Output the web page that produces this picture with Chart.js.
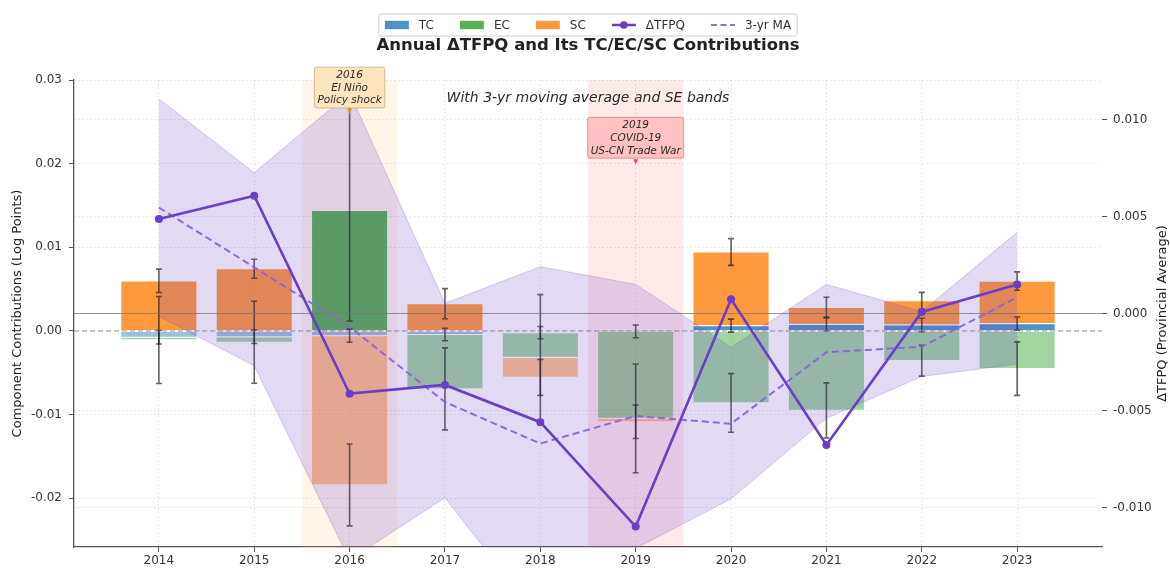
<!DOCTYPE html>
<html>
<head>
<meta charset="utf-8">
<title>Annual ΔTFPQ and Its TC/EC/SC Contributions</title>
<script src="https://cdn.jsdelivr.net/npm/chart.js@4.4.1/dist/chart.umd.min.js"></script>
<style>
  html, body { margin: 0; padding: 0; background: #fff; }
  #wrap { width: 1170px; height: 569px; position: relative; }
</style>
</head>
<body>
<div id="wrap"><canvas id="tfpq-chart"></canvas></div>
<script>
// Annual TFPQ change and its TC / EC / SC decomposition

const years = [2014, 2015, 2016, 2017, 2018, 2019, 2020, 2021, 2022, 2023];

// component contributions (left axis, log points)
const tc = [-0.00075, -0.0007, -0.00056, -0.00042, -0.0002, -0.00005, 0.00064, 0.0008, 0.00072, 0.00088];
const ec = [-0.00032, -0.00065, 0.0144, -0.0065, -0.00295, -0.0104, -0.0086, -0.0095, -0.00355, -0.0045];
const sc = [0.006, 0.00744, -0.01784, 0.00326, -0.0024, -0.0004, 0.0088, 0.00203, 0.0029, 0.00509];

// standard errors of each component
const tcSE = [0.0008, 0.0008, 0.00078, 0.00075, 0.00073, 0.00075, 0.00078, 0.0008, 0.0008, 0.0008];
const ecSE = [0.0052, 0.0049, 0.0132, 0.0049, 0.0075, 0.0065, 0.0035, 0.0033, 0.00185, 0.0032];
const scSE = [0.0014, 0.00114, 0.0049, 0.0018, 0.00215, 0.002, 0.0016, 0.0012, 0.001, 0.0011];

// provincial average ΔTFPQ (right axis)
const dTFPQ = [0.00487, 0.00607, -0.00413, -0.00368, -0.0056, -0.01098, 0.00073, -0.00677, 0.00008, 0.0015];
const ma3 = [0.00546, 0.00238, -0.0007, -0.00456, -0.0067, -0.00528, -0.00568, -0.002, -0.00171, 0.00083];
const bandHi = [0.01106, 0.00725, 0.01137, 0.00053, 0.00241, 0.0015, -0.00174, 0.0015, 0.0001, 0.00418];
const bandLo = [-0.00014, -0.00269, -0.0127, -0.00949, -0.0158, -0.0121, -0.00955, -0.0054, -0.00325, -0.0026];

// tick labels
const xTicks = years;
const leftTicks = [-0.02, -0.01, 0, 0.01, 0.02, 0.03];
const rightTicks = [-0.01, -0.005, 0, 0.005, 0.01];

// highlighted events
const eventYears = [2016, 2019];
const eventLabels = [
  ["2016", "El Niño", "Policy shock"],
  ["2019", "COVID-19", "US-CN Trade War"],
];

const FONT = "'DejaVu Sans', 'Liberation Sans', sans-serif";
Chart.defaults.font.family = FONT;
Chart.defaults.color = "#333";

const X_MIN = 2013.11, X_MAX = 2023.89;
const gridColor = "rgba(0, 0, 0, 0.16)";

const pts = (arr) => years.map((yr, i) => ({ x: yr, y: arr[i] }));
const signFill = (rgb, arr) => arr.map((v) => `rgba(${rgb}, ${v >= 0 ? 0.8 : 0.45})`);

function stackEnds() {
  return years.map((_, i) => {
    let pos = 0, neg = 0;
    return [tc[i], ec[i], sc[i]].map((v) => {
      if (v >= 0) { pos += v; return pos; }
      neg += v; return neg;
    });
  });
}

const eventShadePlugin = {
  id: "eventShade",
  beforeDatasetsDraw(chart) {
    const { ctx, chartArea, scales } = chart;
    const fills = ["rgba(255, 170, 70, 0.12)", "rgba(255, 40, 40, 0.1)"];
    ctx.save();
    eventYears.forEach((yr, k) => {
      const x0 = scales.x.getPixelForValue(yr - 0.5);
      const x1 = scales.x.getPixelForValue(yr + 0.5);
      ctx.fillStyle = fills[k];
      ctx.fillRect(x0, chartArea.top, x1 - x0, chartArea.bottom - chartArea.top);
    });
    ctx.restore();
  },
};

const errorBarPlugin = {
  id: "errorBars",
  afterDatasetDraw(chart, args) {
    if (args.index !== 0) return; // TC is the last bar layer drawn
    const { ctx, chartArea, scales: { x, y } } = chart;
    const ends = stackEnds();
    const ses = [tcSE, ecSE, scSE];
    ctx.save();
    ctx.beginPath();
    ctx.rect(chartArea.left, chartArea.top, chartArea.right - chartArea.left, chartArea.bottom - chartArea.top);
    ctx.clip();
    ctx.strokeStyle = "rgba(25, 25, 25, 0.68)";
    ctx.lineWidth = 1.6;
    years.forEach((yr, i) => {
      const px = x.getPixelForValue(yr);
      ses.forEach((se, k) => {
        const c = ends[i][k];
        const top = y.getPixelForValue(c + se[i]);
        const bot = y.getPixelForValue(c - se[i]);
        ctx.beginPath();
        ctx.moveTo(px, top); ctx.lineTo(px, bot);
        ctx.moveTo(px - 3, top); ctx.lineTo(px + 3, top);
        ctx.moveTo(px - 3, bot); ctx.lineTo(px + 3, bot);
        ctx.stroke();
      });
    });
    ctx.restore();
  },
};

const decorPlugin = {
  id: "decor",
  afterDraw(chart) {
    const { ctx, chartArea, scales } = chart;
    const cx = (chartArea.left + chartArea.right) / 2;
    ctx.save();

    // event annotation boxes
    const boxFill = ["#ffe5bd", "#ffc1c1"];
    const boxEdge = ["rgba(190, 150, 90, 0.6)", "rgba(190, 110, 110, 0.6)"];
    const arrowCol = ["#e3952f", "#f24b4b"];
    const boxCenter = [0.0291, 0.0231];
    ctx.font = `italic 10.5px ${FONT}`;
    ctx.textAlign = "center";
    ctx.textBaseline = "middle";
    eventYears.forEach((yr, k) => {
      const lines = eventLabels[k];
      const bx = scales.x.getPixelForValue(yr);
      const by = scales.y.getPixelForValue(boxCenter[k]);
      const lh = 12.6;
      const w = Math.max(...lines.map((s) => ctx.measureText(s).width)) + 6;
      const h = lh * lines.length + 3;
      ctx.fillStyle = boxFill[k];
      ctx.strokeStyle = boxEdge[k];
      ctx.lineWidth = 1;
      ctx.beginPath();
      ctx.roundRect(bx - w / 2, by - h / 2, w, h, 2);
      ctx.fill();
      ctx.stroke();
      ctx.fillStyle = "#2a2a2a";
      lines.forEach((s, j) => ctx.fillText(s, bx, by - h / 2 + 2 + lh * (j + 0.5)));
      const ay = by + h / 2 + 1;
      ctx.fillStyle = arrowCol[k];
      ctx.beginPath();
      ctx.moveTo(bx - 2.5, ay); ctx.lineTo(bx + 2.5, ay); ctx.lineTo(bx, ay + 5);
      ctx.closePath();
      ctx.fill();
    });

    // subtitle inside the axes
    ctx.fillStyle = "#2a2a2a";
    ctx.font = `italic 14px ${FONT}`;
    ctx.fillText("With 3-yr moving average and SE bands", cx, chartArea.top + 18);

    // title
    ctx.fillStyle = "#222";
    ctx.font = `bold 16.5px ${FONT}`;
    ctx.fillText("Annual ΔTFPQ and Its TC/EC/SC Contributions", cx, 46);

    // right axis title
    ctx.font = `13px ${FONT}`;
    ctx.fillStyle = "#222";
    ctx.translate(1163, (chartArea.top + chartArea.bottom) / 2);
    ctx.rotate(-Math.PI / 2);
    ctx.fillText("ΔTFPQ (Provincial Average)", 0, 0);
    ctx.setTransform(1, 0, 0, 1, 0, 0);

    // legend
    const ds = chart.data.datasets;
    const items = [
      { label: ds[0].label, kind: "box", color: "rgba(31, 119, 180, 0.8)" },
      { label: ds[1].label, kind: "box", color: "rgba(44, 160, 44, 0.8)" },
      { label: ds[2].label, kind: "box", color: "rgba(255, 127, 14, 0.8)" },
      { label: ds[8].label, kind: "line", color: ds[8].borderColor },
      { label: ds[7].label, kind: "dash", color: ds[7].borderColor },
    ];
    ctx.font = `12px ${FONT}`;
    const handle = 24, textPad = 10, colGap = 26, pad = 6;
    const widths = items.map((it) => ctx.measureText(it.label).width);
    const total = widths.reduce((a, b) => a + b, 0) + items.length * (handle + textPad) + colGap * (items.length - 1) + pad * 2;
    const lx = cx - total / 2, ly = 14, lhgt = 22, mid = ly + lhgt / 2;
    ctx.fillStyle = "rgba(255, 255, 255, 0.85)";
    ctx.strokeStyle = "#cfcfcf";
    ctx.lineWidth = 1;
    ctx.beginPath();
    ctx.roundRect(lx, ly, total, lhgt, 2);
    ctx.fill();
    ctx.stroke();
    let px = lx + pad;
    items.forEach((it, k) => {
      if (it.kind === "box") {
        ctx.fillStyle = it.color;
        ctx.fillRect(px, mid - 4.2, handle, 8.4);
      } else {
        ctx.strokeStyle = it.color;
        ctx.lineWidth = it.kind === "line" ? 2.5 : 2;
        ctx.setLineDash(it.kind === "dash" ? [6, 3.5] : []);
        ctx.beginPath();
        ctx.moveTo(px, mid); ctx.lineTo(px + handle, mid);
        ctx.stroke();
        ctx.setLineDash([]);
        if (it.kind === "line") {
          ctx.fillStyle = it.color;
          ctx.beginPath();
          ctx.arc(px + handle / 2, mid, 3.8, 0, Math.PI * 2);
          ctx.fill();
        }
      }
      ctx.fillStyle = "#333";
      ctx.textAlign = "left";
      ctx.fillText(it.label, px + handle + textPad, mid + 0.5);
      px += handle + textPad + widths[k] + colGap;
    });
    ctx.restore();
  },
};

const barCommon = {
  type: "bar",
  yAxisID: "y",
  stack: "comp",
  order: 10,
  barPercentage: 0.8,
  categoryPercentage: 1,
  borderWidth: 0.6,
  borderColor: "rgba(255, 255, 255, 0.3)",
  borderSkipped: false,
};

const ctx = document.getElementById("tfpq-chart").getContext("2d");

new Chart(ctx, {
  data: {
    datasets: [
      { ...barCommon, label: "TC", data: pts(tc), backgroundColor: signFill("31, 119, 180", tc) },
      { ...barCommon, label: "EC", data: pts(ec), backgroundColor: signFill("44, 160, 44", ec) },
      { ...barCommon, label: "SC", data: pts(sc), backgroundColor: signFill("255, 127, 14", sc) },
      {
        type: "line", label: "zero-left", yAxisID: "y", order: 8,
        data: [{ x: X_MIN, y: 0 }, { x: X_MAX, y: 0 }],
        borderColor: "rgba(120, 120, 120, 0.75)", borderWidth: 1.2, borderDash: [5, 3],
        pointRadius: 0, fill: false,
      },
      {
        type: "line", label: "SE band", yAxisID: "yR", order: 5,
        data: pts(bandHi),
        borderColor: "rgba(111, 66, 193, 0.25)", borderWidth: 1,
        backgroundColor: "rgba(111, 66, 193, 0.2)", fill: "+1",
        pointRadius: 0, tension: 0,
      },
      {
        type: "line", label: "SE band low", yAxisID: "yR", order: 5,
        data: pts(bandLo),
        borderColor: "rgba(111, 66, 193, 0.25)", borderWidth: 1,
        pointRadius: 0, fill: false, tension: 0,
      },
      {
        type: "line", label: "zero-right", yAxisID: "yR", order: 4,
        data: [{ x: X_MIN, y: 0 }, { x: X_MAX, y: 0 }],
        borderColor: "rgba(120, 120, 120, 0.75)", borderWidth: 1.2,
        pointRadius: 0, fill: false,
      },
      {
        type: "line", label: "3-yr MA", yAxisID: "yR", order: 3,
        data: pts(ma3),
        borderColor: "rgba(140, 100, 215, 0.95)", borderWidth: 2, borderDash: [7, 4],
        pointRadius: 0, fill: false, tension: 0,
      },
      {
        type: "line", label: "ΔTFPQ", yAxisID: "yR", order: 1,
        data: pts(dTFPQ),
        borderColor: "#6a3fc6", borderWidth: 2.6,
        pointRadius: 4, pointBackgroundColor: "#6a3fc6", pointBorderWidth: 0,
        fill: false, tension: 0,
      },
    ],
  },
  options: {
    responsive: true,
    maintainAspectRatio: false,
    animation: false,
    layout: { padding: { top: 80, left: 0, right: 0, bottom: 0 } },
    plugins: {
      legend: { display: false },
      title: { display: false },
      tooltip: { enabled: false },
    },
    scales: {
      x: {
        type: "linear",
        min: X_MIN,
        max: X_MAX,
        offset: false,
        afterBuildTicks: (axis) => { axis.ticks = xTicks.map((v) => ({ value: v })); },
        afterFit: (scale) => { scale.height = 22; },
        ticks: {
          callback: (v) => String(v),
          color: "#333",
          font: { size: 12 },
          padding: 2,
          maxRotation: 0,
          autoSkip: false,
        },
        grid: { offset: false, color: gridColor, lineWidth: 0.8, tickColor: "#555", tickLength: 5, tickWidth: 1 },
        border: { color: "#555", width: 1.3, dash: [1.5, 2.5] },
      },
      y: {
        type: "linear",
        position: "left",
        min: -0.02582,
        max: 0.03,
        afterBuildTicks: (axis) => { axis.ticks = leftTicks.map((v) => ({ value: v })); },
        afterFit: (scale) => { scale.width = 74; },
        ticks: {
          callback: (v) => Number(v).toFixed(2),
          color: "#333",
          font: { size: 12 },
          padding: 7,
        },
        grid: { color: gridColor, lineWidth: 0.8, tickColor: "#555", tickLength: 5, tickWidth: 1 },
        border: { color: "#555", width: 1.3, dash: [1.5, 2.5] },
        title: {
          display: true,
          text: "Component Contributions (Log Points)",
          color: "#222",
          font: { size: 13 },
          padding: { top: 10, bottom: 0 },
        },
      },
      yR: {
        type: "linear",
        position: "right",
        min: -0.01203,
        max: 0.01203,
        afterBuildTicks: (axis) => { axis.ticks = rightTicks.map((v) => ({ value: v })); },
        afterFit: (scale) => { scale.width = 68; },
        ticks: {
          callback: (v) => Number(v).toFixed(3),
          color: "#333",
          font: { size: 12 },
          padding: 6,
        },
        grid: { color: gridColor, lineWidth: 0.8, tickColor: "#555", tickLength: 5, tickWidth: 1 },
        border: { display: false, dash: [1.5, 2.5] },
      },
    },
  },
  plugins: [eventShadePlugin, errorBarPlugin, decorPlugin],
});
</script>
</body>
</html>
